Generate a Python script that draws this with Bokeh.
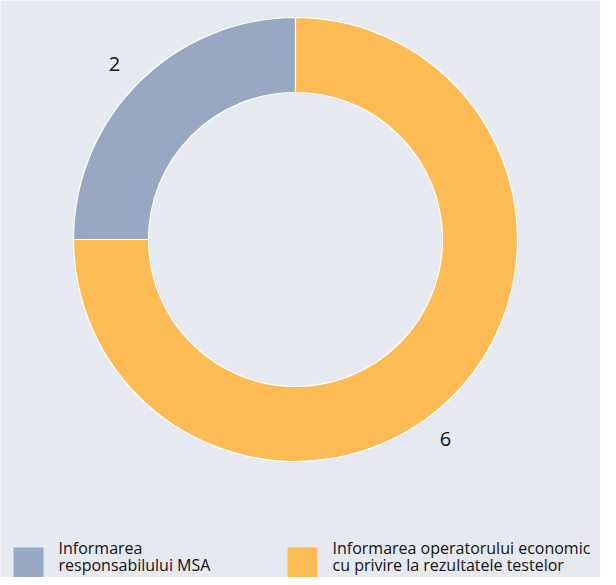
import math
from bokeh.plotting import figure
from bokeh.models import Range1d, ColumnDataSource
from bokeh.core.properties import value
from bokeh.embed import file_html
from bokeh.resources import INLINE

categories = ["Informarea responsabilului MSA",
              "Informarea operatorului economic cu privire la rezultatele testelor"]
legend_lines = [["Informarea", "responsabilului MSA"],
                ["Informarea operatorului economic", "cu privire la rezultatele testelor"]]
values = [2, 6]
colors = ["#99a8c2", "#fdbb55"]

BG = "#e6e9f0"
W, H = 600, 577
cx, cy = 295, 338
r_out, r_in = 222, 147

total = sum(values)
starts, ends = [], []
acc = math.pi / 2
for v in values:
    a = 2 * math.pi * v / total
    starts.append(acc)
    ends.append(acc + a)
    acc += a

p = figure(width=W, height=H, output_backend="svg", toolbar_location=None,
           x_range=Range1d(0, W), y_range=Range1d(0, H), min_border=0)
p.axis.visible = False
p.grid.visible = False
p.outline_line_color = None
p.background_fill_color = BG
p.border_fill_color = BG

src = ColumnDataSource(dict(x=[cx] * len(values), y=[cy] * len(values),
                            start=starts, end=ends, color=colors))
p.annular_wedge(x="x", y="y", inner_radius=r_in, outer_radius=r_out,
                start_angle="start", end_angle="end", fill_color="color",
                line_color="white", line_width=1.2, source=src)

# value labels
lab_x = [114, 445]
lab_y = [514, 139]
p.text(x=lab_x, y=lab_y, text=[str(v) for v in values],
       text_font=value("Open Sans"), text_font_size="20px", text_color="#111111",
       text_align="center", text_baseline="middle")

# legend
sq_left = [13, 287]
txt_left = [58, 332]
sq = 30
p.quad(left=sq_left, right=[s + sq for s in sq_left], top=[30, 30], bottom=[0, 0],
       fill_color=colors, line_color=None)
for i, lines in enumerate(legend_lines):
    for j, ln in enumerate(lines):
        p.text(x=[txt_left[i]], y=[19 - 17 * j], text=[ln],
               text_font=value("Open Sans"), text_font_size="16px",
               text_color="#111111", text_align="left", text_baseline="bottom")

html = file_html(p, INLINE)
html = html.replace("<body>", '<body style="background:%s">' % BG, 1)
open("out.html", "w").write(html)
